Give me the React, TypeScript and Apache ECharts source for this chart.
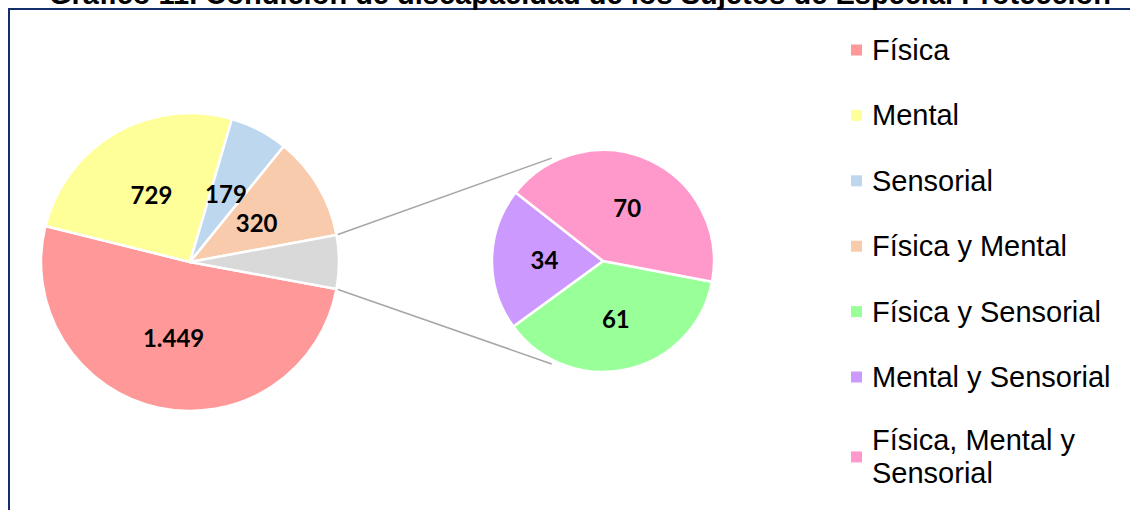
import React, { useEffect, useRef } from "react";
import * as echarts from "echarts";

const TITLE = "Gráfico 11. Condición de discapacidad de los Sujetos de Especial Protección";

const mainCategories = ["Física", "Mental", "Sensorial", "Física y Mental"];
const mainValues = [1449, 729, 179, 320];
const mainColors = ["#FF9999", "#FFFF99", "#BDD7EE", "#F8CBAD"];

const otherName = "Otras combinaciones";
const otherColor = "#D9D9D9";

const subCategories = ["Física y Sensorial", "Mental y Sensorial", "Física, Mental y Sensorial"];
const subValues = [61, 34, 70];
const subColors = ["#99FF99", "#CC99FF", "#FF99CC"];

const legendNames = [...mainCategories, ...subCategories];
const legendTexts = ["Física", "Mental", "Sensorial", "Física y Mental", "Física y Sensorial", "Mental y Sensorial", "Física, Mental y\nSensorial"];

// layout
const C1 = [190, 262];
const R1 = 149;
const C2 = [603, 261];
const R2 = 111;
const SUB_START = 349.2;
const LINK_ANGLE = 116.5;

const fmt = (v: number) => String(v).replace(/\B(?=(\d{3})+(?!\d))/g, ".");

export default function App() {
  const ref = useRef<HTMLDivElement>(null);
  useEffect(() => {
    if (!ref.current) return;
    const chart = echarts.init(ref.current, undefined, { renderer: "svg" });
    const otherValue = subValues.reduce((a, b) => a + b, 0);
    const total = mainValues.reduce((a, b) => a + b, 0) + otherValue;
    const halfDeg = (otherValue / total) * 180;
    const half = (halfDeg * Math.PI) / 180;
    const la = (LINK_ANGLE * Math.PI) / 180;
    const p1a = [C1[0] + R1 * Math.cos(half), C1[1] - R1 * Math.sin(half)];
    const p1b = [C1[0] + R1 * Math.cos(half), C1[1] + R1 * Math.sin(half)];
    const p2a = [C2[0] + (R2 + 4) * Math.cos(la), C2[1] - (R2 + 4) * Math.sin(la)];
    const p2b = [C2[0] + (R2 + 4) * Math.cos(la), C2[1] + (R2 + 4) * Math.sin(la)];

    const labelStyle = {
      show: true,
      position: "inside",
      color: "#000",
      fontWeight: "bold",
      fontSize: 24,
      fontFamily: "Lato, 'DejaVu Sans', sans-serif",
      formatter: (p: any) => fmt(p.value),
    };

    const option: any = {
      animation: false,
      backgroundColor: "#fff",
      legend: {
        orient: "vertical",
        left: 846,
        top: 28.5,
        itemWidth: 11,
        itemHeight: 11,
        itemGap: 32.4,
        icon: "rect",
        itemStyle: { borderWidth: 0 },
        selectedMode: false,
        textStyle: {
          fontFamily: "'Liberation Sans', Arial, sans-serif",
          fontSize: 29,
          color: "#000",
          lineHeight: 33,
          padding: [0, 0, 0, 5],
        },
        data: legendNames.map((name, i) =>
          legendTexts[i].includes("\n") ? { name, textStyle: { padding: [0, 0, -33, 5] } } : { name }
        ),
        formatter: (name: string) => legendTexts[legendNames.indexOf(name)] ?? name,
      },
      series: [
        {
          type: "pie",
          center: C1,
          radius: R1,
          startAngle: 360 - halfDeg,
          clockwise: true,
          silent: true,
          itemStyle: { borderColor: "#fff", borderWidth: 2.5 },
          label: labelStyle,
          labelLine: { show: false },
          data: [
            ...mainCategories.map((name, i) => ({ name, value: mainValues[i], itemStyle: { color: mainColors[i] } })),
            { name: otherName, value: otherValue, itemStyle: { color: otherColor }, label: { show: false } },
          ],
        },
        {
          type: "pie",
          center: C2,
          radius: R2,
          startAngle: SUB_START,
          clockwise: true,
          silent: true,
          itemStyle: { borderColor: "#fff", borderWidth: 2.5 },
          label: labelStyle,
          labelLine: { show: false },
          data: subCategories.map((name, i) => ({ name, value: subValues[i], itemStyle: { color: subColors[i] } })),
        },
      ],
      graphic: [
        {
          type: "rect",
          shape: { x: 9, y: 9, width: 1300, height: 700 },
          style: { fill: "none", stroke: "#142E6C", lineWidth: 2 },
          silent: true,
          z: 0,
        },
        {
          type: "text",
          x: 580,
          y: -6,
          style: {
            text: TITLE,
            font: "bold 29px 'Liberation Sans', Arial, sans-serif",
            fill: "#000",
            align: "center",
            verticalAlign: "middle",
          },
          z: 10,
        },
        {
          type: "line",
          shape: { x1: p1a[0], y1: p1a[1], x2: p2a[0], y2: p2a[1] },
          style: { stroke: "#A6A6A6", lineWidth: 1.5 },
          silent: true,
        },
        {
          type: "line",
          shape: { x1: p1b[0], y1: p1b[1], x2: p2b[0], y2: p2b[1] },
          style: { stroke: "#A6A6A6", lineWidth: 1.5 },
          silent: true,
        },
      ],
    };
    chart.setOption(option);
    return () => chart.dispose();
  }, []);
  return (
    <div
      ref={ref}
      style={{ position: "fixed", left: 0, top: 0, width: 1130, height: 510, background: "#fff" }}
    />
  );
}
